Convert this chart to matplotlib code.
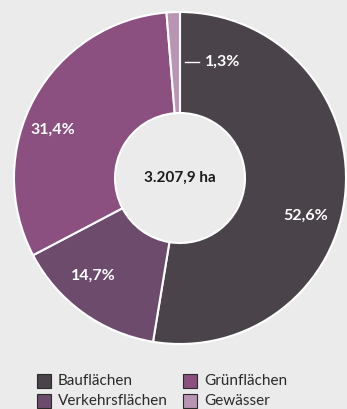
import matplotlib.pyplot as plt
from matplotlib.patches import Rectangle

# data
categories = ['Bauflächen', 'Verkehrsflächen', 'Grünflächen', 'Gewässer']
shares = [52.6, 14.7, 31.4, 1.3]
share_labels = ['52,6%', '14,7%', '31,4%', '1,3%']
colors = ['#4b434a', '#6d4b6c', '#8b4f80', '#b995b4']
total_label = '3.207,9 ha'

BG = '#ebebeb'
H = 409
plt.rcParams['font.family'] = ['Lato', 'DejaVu Sans']

fig = plt.figure(figsize=(3.47, 4.09), dpi=100, facecolor=BG)
ax = fig.add_axes([0, 0, 1, 1])
ax.set_facecolor(BG)

cx, cy, r = 180, H - 178, 166
wedges, _ = ax.pie(shares, colors=colors, startangle=90, counterclock=False,
                   center=(cx, cy), radius=r, frame=True,
                   wedgeprops=dict(width=r - 65, edgecolor='white', linewidth=1.5))
ax.set_xlim(0, 347)
ax.set_ylim(0, H)
ax.set_aspect('equal')
ax.axis('off')

# label positions (pixels from top-left)
label_pos = [(306, 216), (93, 276), (53, 130), (223, 62)]
for (x, y), txt in zip(label_pos, share_labels):
    ax.text(x, H - y, txt, color='white', fontsize=11.5, fontweight='bold',
            ha='center', va='center')
ax.plot([185, 199], [H - 62, H - 62], color='white', lw=1)

ax.text(cx, cy, total_label, fontsize=11, fontweight='bold', color='#1a1a1a',
        ha='center', va='center')

# legend, two columns
leg_x = [37, 183]
leg_y = [381, 401]
for i, (cat, col) in enumerate(zip(categories, colors)):
    x = leg_x[i // 2]
    y = leg_y[i % 2]
    ax.add_patch(Rectangle((x, H - y - 7), 14, 14, facecolor=col,
                           edgecolor='#2a2a2a', linewidth=0.8))
    ax.text(x + 21, H - y, cat, fontsize=11, color='#2a2a2a',
            ha='left', va='center')

fig.savefig('out.png', dpi=100, facecolor=BG)
